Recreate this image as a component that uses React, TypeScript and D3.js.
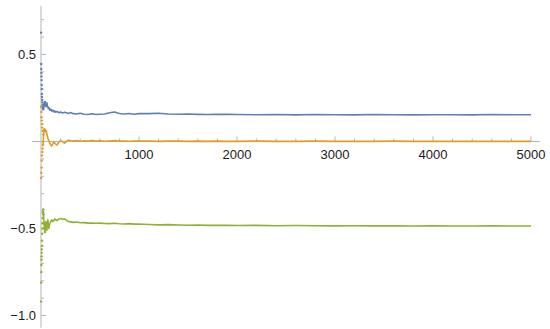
import { useEffect, useRef } from "react";
import * as d3 from "d3";

// sample positions (n)
const sampleN = [
  1, 2, 3, 4, 5, 6, 7, 8, 9, 10, 12, 14, 16, 18, 20, 23, 26, 30, 35, 40,
  45, 50, 55, 60, 65, 70, 75, 80, 90, 100, 110, 120, 130, 140, 150, 165, 180,
  200, 220, 240, 260, 280, 300, 330, 360, 400, 440, 480, 520, 560, 600, 650,
  700, 750, 800, 850, 900, 950, 1000, 1100, 1200, 1300, 1400, 1500, 1600,
  1700, 1800, 1900, 2000, 2200, 2400, 2600, 2800, 3000, 3200, 3400, 3600,
  3800, 4000, 4200, 4400, 4600, 4800, 5000,
];

const blueValues = [
  0.626, 0.445, 0.417, 0.394, 0.374, 0.353, 0.325, 0.302, 0.273, 0.256, 0.239,
  0.225, 0.21, 0.2, 0.19, 0.185, 0.2, 0.215, 0.21, 0.228, 0.215, 0.2, 0.212,
  0.222, 0.205, 0.198, 0.19, 0.196, 0.18, 0.186, 0.175, 0.181, 0.17, 0.176,
  0.168, 0.173, 0.165, 0.17, 0.163, 0.168, 0.165, 0.161, 0.166, 0.16, 0.158,
  0.162, 0.157, 0.155, 0.159, 0.155, 0.157, 0.158, 0.165, 0.17, 0.161, 0.158,
  0.161, 0.157, 0.16, 0.16, 0.162, 0.158, 0.157, 0.158, 0.156, 0.155, 0.156,
  0.156, 0.155, 0.154, 0.155, 0.153, 0.155, 0.154, 0.153, 0.155, 0.154, 0.153,
  0.154, 0.154, 0.153, 0.155, 0.154, 0.154,
];

const orangeValues = [
  0.2, -0.21, -0.18, 0.17, 0.14, -0.15, 0.12, -0.11, 0.1, -0.08, 0.08, -0.06,
  -0.04, 0.06, -0.02, 0.0, 0.04, 0.065, 0.07, 0.06, 0.065, 0.055, 0.06, 0.04,
  0.03, 0.02, 0.01, 0.005, -0.01, -0.02, -0.025, -0.015, 0.0, -0.01, -0.015,
  -0.02, -0.005, 0.005, 0.0, -0.01, 0.002, 0.008, 0.004, 0.002, 0.006, 0.001,
  0.004, 0.003, 0.006, 0.002, 0.004, 0.001, 0.003, 0.005, 0.002, 0.003, 0.001,
  0.003, 0.002, 0.003, 0.001, 0.002, 0.002, 0.001, 0.002, 0.001, 0.002, 0.001,
  0.001, 0.002, 0.001, 0.001, 0.002, 0.001, 0.001, 0.001, 0.002, 0.001, 0.001,
  0.001, 0.001, 0.001, 0.001, 0.001,
];

const greenValues = [
  -0.92, -0.81, -0.75, -0.71, -0.68, -0.66, -0.64, -0.62, -0.6, -0.57, -0.53,
  -0.5, -0.47, -0.44, -0.41, -0.39, -0.42, -0.47, -0.5, -0.52, -0.49, -0.46,
  -0.5, -0.51, -0.47, -0.45, -0.48, -0.5, -0.47, -0.46, -0.45, -0.46, -0.455,
  -0.445, -0.45, -0.455, -0.445, -0.443, -0.447, -0.445, -0.452, -0.46,
  -0.462, -0.465, -0.463, -0.467, -0.466, -0.469, -0.468, -0.47, -0.469,
  -0.471, -0.472, -0.47, -0.473, -0.474, -0.472, -0.475, -0.474, -0.477,
  -0.479, -0.478, -0.48, -0.481, -0.48, -0.482, -0.481, -0.482, -0.483,
  -0.482, -0.484, -0.483, -0.484, -0.485, -0.484, -0.485, -0.485, -0.486,
  -0.485, -0.486, -0.486, -0.485, -0.486, -0.486,
];

const xMajorTicks = [1000, 2000, 3000, 4000, 5000];
const yMajorTicks = [0.5, -0.5, -1.0];
const yTickLabels = ["0.5", "\u22120.5", "\u22121.0"];

const series = [
  { name: "blue", color: "#5e81b5", values: blueValues },
  { name: "orange", color: "#e19c24", values: orangeValues },
  { name: "green", color: "#8fb032", values: greenValues },
];

const App = () => {
  const svgRef = useRef<SVGSVGElement>(null);

  useEffect(() => {
    const width = 550;
    const height = 329;
    const svg = d3.select(svgRef.current);
    svg.selectAll("*").remove();
    svg.attr("width", width).attr("height", height);

    const x = d3.scaleLinear().domain([0, 5000]).range([41, 531]);
    const y = d3.scaleLinear().domain([-1, 0.5]).range([315.5, 54.5]);

    const axisColor = "#b5b5b5";
    const g = svg.append("g");

    // axes lines
    g.append("line")
      .attr("x1", x(-92))
      .attr("x2", x(5092))
      .attr("y1", y(0))
      .attr("y2", y(0))
      .attr("stroke", axisColor)
      .attr("stroke-width", 1);
    g.append("line")
      .attr("x1", x(0))
      .attr("x2", x(0))
      .attr("y1", y(0.78))
      .attr("y2", y(-1.07))
      .attr("stroke", axisColor)
      .attr("stroke-width", 1);

    // x ticks
    const xMinor = d3.range(200, 5001, 200).filter((v) => v % 1000 !== 0);
    g.selectAll(".xminor")
      .data(xMinor)
      .join("line")
      .attr("x1", (d) => x(d))
      .attr("x2", (d) => x(d))
      .attr("y1", y(0))
      .attr("y2", y(0) - 3)
      .attr("stroke", axisColor);
    g.selectAll(".xmajor")
      .data(xMajorTicks)
      .join("line")
      .attr("x1", (d) => x(d))
      .attr("x2", (d) => x(d))
      .attr("y1", y(0))
      .attr("y2", y(0) - 5)
      .attr("stroke", axisColor);
    g.selectAll(".xlabel")
      .data(xMajorTicks)
      .join("text")
      .attr("x", (d) => x(d))
      .attr("y", y(0) + 17)
      .attr("text-anchor", "middle")
      .attr("font-family", "Liberation Sans, Arial, sans-serif")
      .attr("font-size", 13)
      .attr("fill", "#1a1a1a")
      .text((d) => String(d));

    // y ticks
    const yMinor = d3
      .range(-10, 8)
      .map((v) => v / 10)
      .filter((v) => v !== 0 && Math.abs(v) !== 0.5 && v !== -1);
    g.selectAll(".yminor")
      .data(yMinor)
      .join("line")
      .attr("x1", x(0))
      .attr("x2", x(0) + 3)
      .attr("y1", (d) => y(d))
      .attr("y2", (d) => y(d))
      .attr("stroke", axisColor);
    g.selectAll(".ymajor")
      .data(yMajorTicks)
      .join("line")
      .attr("x1", x(0))
      .attr("x2", x(0) + 5)
      .attr("y1", (d) => y(d))
      .attr("y2", (d) => y(d))
      .attr("stroke", axisColor);
    g.selectAll(".ylabel")
      .data(yMajorTicks)
      .join("text")
      .attr("x", x(0) - 5)
      .attr("y", (d) => y(d))
      .attr("dy", "0.36em")
      .attr("text-anchor", "end")
      .attr("font-family", "Liberation Sans, Arial, sans-serif")
      .attr("font-size", 13)
      .attr("fill", "#1a1a1a")
      .text((_, i) => yTickLabels[i]);

    // series: separate dots early, dense line afterwards
    const lineStart = sampleN.indexOf(20);
    const dotEnd = sampleN.indexOf(40);
    const line = d3
      .line<number>()
      .x((_, i) => x(sampleN[i + lineStart]))
      .y((d) => y(d));

    series.forEach((s) => {
      g.append("path")
        .attr("d", line(s.values.slice(lineStart)))
        .attr("fill", "none")
        .attr("stroke", s.color)
        .attr("stroke-width", 1.6)
        .attr("stroke-linejoin", "round");
      g.append("g")
        .selectAll("circle")
        .data(s.values.slice(0, dotEnd + 1))
        .join("circle")
        .attr("cx", (_, i) => x(sampleN[i]))
        .attr("cy", (d) => y(d))
        .attr("r", 1.2)
        .attr("fill", s.color);
    });
  }, []);

  return (
    <svg
      ref={svgRef}
      style={{ position: "absolute", left: 0, top: 0, background: "#fff" }}
    ></svg>
  );
};

export default App;
